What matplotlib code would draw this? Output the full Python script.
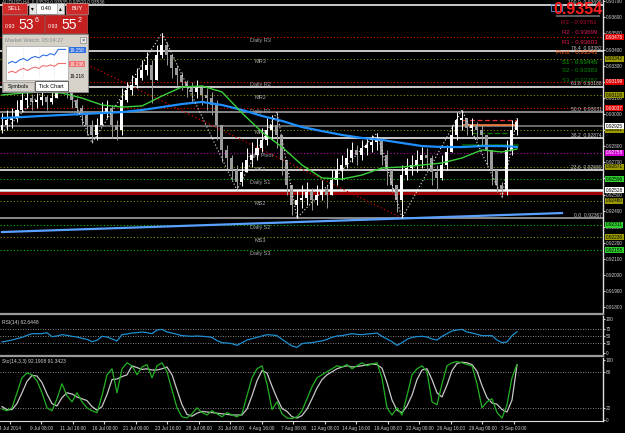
import numpy as np
import matplotlib.pyplot as plt
from matplotlib.patches import Rectangle
from matplotlib.ticker import MultipleLocator, FormatStrFormatter

plt.rcParams['font.family'] = ['Liberation Sans', 'DejaVu Sans']

# ---- AUDUSD H4 bars (open = previous close) ----
open_first = 0.92901
close = [0.92932, 0.92963, 0.92975, 0.93025, 0.93087, 0.93099, 0.93075, 0.93087, 0.93106, 0.93075,
         0.93099, 0.93161, 0.93211, 0.93149, 0.93087, 0.93037, 0.92994, 0.92932, 0.92870, 0.92932,
         0.93012, 0.93037, 0.92932, 0.92901, 0.93087, 0.93149, 0.93180, 0.93224, 0.93273, 0.93304,
         0.93211, 0.93366, 0.93429, 0.93366, 0.93286, 0.93242, 0.93199, 0.93161, 0.93137, 0.93161,
         0.93118, 0.93099, 0.93056, 0.92932, 0.92777, 0.92727, 0.92652, 0.92578, 0.92640, 0.92714,
         0.92745, 0.92789, 0.92839, 0.92901, 0.92932, 0.92870, 0.92714, 0.92559, 0.92435, 0.92466,
         0.92478, 0.92516, 0.92466, 0.92497, 0.92528, 0.92497, 0.92590, 0.92652, 0.92683, 0.92727,
         0.92777, 0.92745, 0.92789, 0.92808, 0.92826, 0.92839, 0.92745, 0.92652, 0.92559, 0.92466,
         0.92621, 0.92665, 0.92683, 0.92714, 0.92745, 0.92727, 0.92640, 0.92603, 0.92683, 0.92764,
         0.92870, 0.92963, 0.92975, 0.92913, 0.92932, 0.92901, 0.92870, 0.92777, 0.92652, 0.92559,
         0.92528, 0.92777, 0.92901, 0.92950]
high = [0.93006, 0.93025, 0.93037, 0.93087, 0.93137, 0.93149, 0.93124, 0.93130, 0.93149, 0.93118,
        0.93161, 0.93224, 0.93261, 0.93211, 0.93161, 0.93099, 0.93056, 0.93012, 0.92963, 0.92975,
        0.93075, 0.93087, 0.93056, 0.92963, 0.93161, 0.93199, 0.93242, 0.93286, 0.93335, 0.93385,
        0.93335, 0.93429, 0.93503, 0.93447, 0.93348, 0.93304, 0.93261, 0.93211, 0.93199, 0.93211,
        0.93180, 0.93161, 0.93137, 0.93087, 0.92901, 0.92808, 0.92745, 0.92683, 0.92702, 0.92789,
        0.92826, 0.92851, 0.92913, 0.92975, 0.92994, 0.93012, 0.92870, 0.92714, 0.92559, 0.92528,
        0.92559, 0.92578, 0.92540, 0.92559, 0.92590, 0.92559, 0.92652, 0.92727, 0.92745, 0.92789,
        0.92826, 0.92808, 0.92839, 0.92851, 0.92870, 0.92882, 0.92851, 0.92777, 0.92652, 0.92559,
        0.92683, 0.92727, 0.92745, 0.92777, 0.92795, 0.92789, 0.92745, 0.92683, 0.92745, 0.92808,
        0.92932, 0.93012, 0.93025, 0.92975, 0.92975, 0.92950, 0.92932, 0.92870, 0.92777, 0.92652,
        0.92578, 0.92839, 0.92963, 0.92975]
low = [0.92882, 0.92901, 0.92913, 0.92950, 0.93012, 0.93037, 0.93025, 0.93037, 0.93056, 0.93025,
       0.93062, 0.93112, 0.93149, 0.93099, 0.93037, 0.92994, 0.92932, 0.92870, 0.92820, 0.92839,
       0.92950, 0.92975, 0.92851, 0.92839, 0.92870, 0.93075, 0.93118, 0.93161, 0.93211, 0.93242,
       0.93068, 0.93211, 0.93348, 0.93304, 0.93224, 0.93180, 0.93149, 0.93106, 0.93075, 0.93099,
       0.93056, 0.93025, 0.92994, 0.92839, 0.92702, 0.92652, 0.92590, 0.92528, 0.92553, 0.92640,
       0.92671, 0.92714, 0.92764, 0.92808, 0.92839, 0.92789, 0.92621, 0.92497, 0.92373, 0.92354,
       0.92416, 0.92435, 0.92404, 0.92435, 0.92466, 0.92416, 0.92497, 0.92559, 0.92590, 0.92665,
       0.92702, 0.92683, 0.92714, 0.92745, 0.92764, 0.92777, 0.92683, 0.92559, 0.92516, 0.92391,
       0.92354, 0.92590, 0.92621, 0.92640, 0.92665, 0.92652, 0.92559, 0.92528, 0.92590, 0.92652,
       0.92777, 0.92839, 0.92901, 0.92870, 0.92870, 0.92839, 0.92808, 0.92683, 0.92559, 0.92516,
       0.92485, 0.92497, 0.92745, 0.92870]

# moving averages sampled every 4th bar
ma_idx = list(range(0, 101, 4)) + [103]
ma_slow = [0.92975, 0.92981, 0.92988, 0.92994, 0.93000, 0.93006, 0.93012, 0.93025, 0.93043, 0.93062,
           0.93075, 0.93056, 0.93025, 0.92988, 0.92957, 0.92919, 0.92894, 0.92870, 0.92851, 0.92839,
           0.92820, 0.92801, 0.92795, 0.92795, 0.92801, 0.92801, 0.92795]
ma_fast = [0.93118, 0.93130, 0.93137, 0.93130, 0.93099, 0.93056, 0.93043, 0.93050, 0.93112, 0.93168,
           0.93174, 0.93137, 0.93006, 0.92888, 0.92795, 0.92683, 0.92603, 0.92596, 0.92621, 0.92665,
           0.92671, 0.92683, 0.92696, 0.92727, 0.92777, 0.92764, 0.92783]

# zigzag pivots: bar index and whether it is a high
zz_idx = [0, 12, 18, 32, 47, 55, 59, 75, 80, 92, 100, 103]
zz_high = [False, True, False, True, False, True, False, True, False, True, False, True]

trend_red_idx = [11, 80]
trend_red_px = [0.93398, 0.92354]
trend_blue_idx = [0, 112]
trend_blue_px = [0.92267, 0.92385]

daily_names = ['Daily R3', 'Daily R2', 'Daily R1', 'Daily Pivot', 'Daily S1', 'Daily S2', 'Daily S3']
daily_prices = [0.93478, 0.93199, 0.93037, 0.92758, 0.92596, 0.92311, 0.92155]
mid_names = ['MR3', 'MR2', 'MR1', 'MS1', 'MS2', 'MS3']
mid_prices = [0.93342, 0.93118, 0.92901, 0.92671, 0.92460, 0.92236]
fib_labels = ['100.0  0.93695', '76.4  0.93382', '61.8  0.93188', '50.0  0.93031',
              '38.2  0.92874', '23.6  0.92680', '0.0  0.92367']
fib_prices = [0.93677, 0.93391, 0.93168, 0.93012, 0.92851, 0.92652, 0.92354]
extra_prices = [0.92925, 0.92528, 0.92510]   # current-price line, support band
short_prices = [0.92963, 0.92932, 0.92882, 0.92808]

pivot_box = ['R3 - 0.93761', 'R2 - 0.93699', 'R1 - 0.93603', 'Pivot - 0.93541',
             'S1 - 0.93445', 'S2 - 0.93383', 'S3 - 0.93287']

rsi = [32, 35, 38, 42, 46, 52, 57, 57, 57, 60,
       48, 50, 54, 52, 49, 47, 43, 40, 33, 37,
       49, 47, 41, 35, 54, 56, 59, 60, 62, 60,
       57, 68, 70, 62, 59, 55, 51, 50, 49, 50,
       49, 48, 46, 36, 30, 29, 27, 22, 30, 38,
       42, 46, 50, 54, 53, 51, 40, 30, 20, 16,
       27, 29, 30, 33, 35, 40, 46, 50, 51, 54,
       57, 55, 54, 56, 57, 59, 49, 41, 33, 22,
       30, 40, 46, 48, 49, 47, 41, 38, 49, 57,
       65, 68, 70, 62, 59, 55, 51, 51, 51, 38,
       30, 32, 51, 62.64]
sto_k = [18, 15, 20, 45, 70, 78, 75, 65, 45, 20,
         15, 35, 60, 40, 30, 45, 30, 20, 15, 12,
         40, 75, 85, 45, 85, 95, 90, 75, 88, 92,
         70, 90, 95, 80, 50, 20, 5, 3, 10, 20,
         12, 8, 15, 10, 5, 12, 8, 5, 10, 40,
         70, 85, 90, 60, 17, 30, 10, 3, 2, 5,
         15, 35, 55, 70, 75, 80, 85, 90, 88, 92,
         85, 90, 95, 90, 93, 95, 70, 20, 8, 20,
         8, 40, 75, 85, 90, 80, 30, 25, 60, 90,
         95, 97, 95, 92, 90, 60, 20, 30, 35, 12,
         3, 25, 70, 92.19]
sto_d = [22, 17, 17, 27, 45, 64, 74, 73, 62, 43,
         27, 23, 37, 45, 43, 38, 35, 32, 22, 16,
         22, 42, 67, 68, 72, 75, 90, 87, 84, 85,
         83, 83, 85, 88, 75, 50, 25, 9, 6, 11,
         14, 13, 12, 11, 10, 9, 8, 8, 8, 18,
         40, 65, 82, 78, 56, 36, 19, 14, 5, 3,
         7, 18, 35, 53, 67, 75, 80, 85, 88, 90,
         88, 89, 90, 92, 93, 92, 86, 62, 33, 16,
         12, 23, 41, 67, 83, 85, 67, 45, 38, 58,
         82, 94, 96, 95, 92, 81, 57, 37, 28, 26,
         17, 13, 33, 91.34]

date_labels = ['4 Jul 2014', '9 Jul 08:00', '11 Jul 16:00', '16 Jul 00:00', '21 Jul 00:00',
               '23 Jul 16:00', '28 Jul 08:00', '31 Jul 08:00', '4 Aug 16:00', '7 Aug 08:00',
               '12 Aug 08:00', '14 Aug 16:00', '19 Aug 08:00', '22 Aug 00:00', '26 Aug 16:00',
               '29 Aug 08:00', '3 Sep 00:00']

tick_blue = [19.238, 19.241, 19.239, 19.243, 19.245, 19.242, 19.246, 19.248,
             19.246, 19.250, 19.249, 19.252, 19.250, 19.258, 19.258, 19.258]
tick_red = [19.225, 19.227, 19.225, 19.229, 19.231, 19.228, 19.231, 19.233,
            19.231, 19.235, 19.234, 19.236, 19.234, 19.238, 19.238, 19.238]

# ---------------------------------------------------------------------------
W, H = 625, 433
FG = '#d0d0d0'
DOT = (0, (1, 2))
SMALL = 3.4


def frame(x0, y0, x1, y1):
    return [x0 / W, 1 - y1 / H, (x1 - x0) / W, (y1 - y0) / H]


fig = plt.figure(figsize=(W / 100, H / 100), dpi=100, facecolor='black')
ax = fig.add_axes(frame(0, 0, 603, 314))
ax_rsi = fig.add_axes(frame(0, 316, 603, 356))
ax_sto = fig.add_axes(frame(0, 358, 603, 421))

for a in (ax, ax_rsi, ax_sto):
    a.set_facecolor('black')
    a.set_xlim(-0.4, 120.2)
    for s in a.spines.values():
        s.set_visible(False)
    a.spines['right'].set_visible(True)
    a.spines['right'].set_color('#e0e0e0')
    a.spines['right'].set_linewidth(1)
    a.yaxis.tick_right()
    a.tick_params(axis='y', colors=FG, labelsize=SMALL, length=1.5, pad=0.6)
    a.tick_params(axis='x', bottom=False, labelbottom=False)
for a in (ax, ax_rsi):
    a.spines['bottom'].set_visible(True)
    a.spines['bottom'].set_color('#9a9a9a')
    a.spines['bottom'].set_linewidth(1.6)
ax_sto.spines['bottom'].set_visible(True)
ax_sto.spines['bottom'].set_color('#e0e0e0')

# ---- main price panel ----
ax.set_ylim(0.91758, 0.93708)
ax.yaxis.set_major_locator(MultipleLocator(0.001))
ax.yaxis.set_major_formatter(FormatStrFormatter('%.5f'))

# horizontal levels
for p in daily_prices[:3]:
    ax.axhline(p, color='#e00000', ls=DOT, lw=0.8)
ax.axhline(daily_prices[3], color='#c000c0', ls=DOT, lw=0.8)
for p in daily_prices[4:]:
    ax.axhline(p, color='#00c000', ls=DOT, lw=0.8)
for p in mid_prices:
    ax.axhline(p, color='#8c8c00', ls=DOT, lw=0.8)
fib_colors = ['white', 'white', 'white', '#a8a8a8', 'white', 'white', '#b0b0b0']
for p, c in zip(fib_prices, fib_colors):
    ax.axhline(p, color=c, lw=1.1)
ax.axhline(extra_prices[0], color='#6a6a6a', lw=1.4)
ax.axhline(extra_prices[1], color='white', lw=1.8)
ax.axhline(extra_prices[2], color='#a00000', lw=2.2)

for name, p in zip(daily_names + mid_names, daily_prices + mid_prices):
    ax.text(51.6, p - 0.00003, name, color='#a8a8a8', fontsize=4, ha='center', va='top')
for lab, p in zip(fib_labels, fib_prices):
    ax.text(120.0, p + 0.00003, lab, color='#c8c8c8', fontsize=3.6, ha='right', va='bottom')

# trend lines
ax.plot(trend_red_idx, trend_red_px, color='#d00000', ls=DOT, lw=0.9)
ax.plot(trend_blue_idx, trend_blue_px, color='#5aa0ff', lw=1.6)

# short levels on the right
ax.hlines(short_prices[0], 92, 103, color='#e03030', ls=(0, (4, 2)), lw=0.9)
ax.hlines(short_prices[1], 92, 103, color='#ff8040', lw=1.2)
ax.hlines(short_prices[2], 94, 102, color='#008000', ls=(0, (4, 2)), lw=0.9)
ax.hlines(short_prices[3], 92, 103.4, color='#006000', lw=1.2)

# candles
idx = np.arange(len(close))
c = np.array(close)
o = np.r_[open_first, c[:-1]]
top = np.maximum(o, c)
bot = np.minimum(o, c)
hi = np.maximum(np.array(high), top)
lo = np.minimum(np.array(low), bot)
up = c >= o
cols = np.where(up, '#ffffff', '#9c9c9c')
ax.vlines(idx, lo, hi, colors=cols, lw=0.7, zorder=3)
ax.bar(idx, np.maximum(top - bot, 0.00003), bottom=bot, width=0.6, color=cols,
       edgecolor='none', zorder=3)

ax.plot(ma_idx, ma_slow, color='#1e8fff', lw=1.6, zorder=4)
ax.plot(ma_idx, ma_fast, color='#3ad13a', lw=1.0, zorder=4)

zz_px = [high[i] if h else low[i] for i, h in zip(zz_idx, zz_high)]
ax.plot(zz_idx, zz_px, color='#e8e8e8', ls=DOT, lw=0.8, zorder=5)

# coloured price boxes on the right scale
ytr = ax.get_yaxis_transform()
boxes = ([(p, '#e00000', 'white') for p in daily_prices[:3]] +
         [(daily_prices[3], '#d000d0', 'white')] +
         [(p, '#2ed02e', 'black') for p in daily_prices[4:]] +
         [(p, '#9a9a00', 'black') for p in mid_prices] +
         [(extra_prices[0], 'white', 'black'), (extra_prices[1], 'white', 'black')])
for p, fc, tc in boxes:
    ax.text(1.005, p, '%.5f' % p, transform=ytr, fontsize=SMALL, color=tc, ha='left',
            va='center', clip_on=False, zorder=6,
            bbox=dict(boxstyle='square,pad=0.12', fc=fc, ec='none'))

# ---- RSI ----
ax_rsi.set_ylim(-10, 110)
ax_rsi.set_yticks([0, 30, 50, 70, 100])
for lv in (30, 50, 70):
    ax_rsi.axhline(lv, color='#b0b0b0', ls=DOT, lw=0.6)
ax_rsi.plot(idx, rsi, color='#1d8fd0', lw=0.9)
ax_rsi.text(0.004, 0.9, 'RSI(14) 62.6448', transform=ax_rsi.transAxes, color=FG,
            fontsize=3.6, va='top')

# ---- Stochastic ----
ax_sto.set_ylim(-2, 103)
ax_sto.set_yticks([0, 20, 80, 100])
for lv in (20, 80):
    ax_sto.axhline(lv, color='#b0b0b0', ls=DOT, lw=0.6)
ax_sto.plot(idx, sto_d, color='#c8c8c8', lw=0.9)
ax_sto.plot(idx, sto_k, color='#22b022', lw=0.9)
ax_sto.text(0.004, 0.98, 'Sto(14,3,3) 92.1908 91.3423', transform=ax_sto.transAxes,
            color=FG, fontsize=3.6, va='top')
tick_pos = 1.6 + 6.3 * np.arange(len(date_labels))
ax_sto.set_xticks(tick_pos)
ax_sto.set_xticklabels(date_labels)
ax_sto.tick_params(axis='x', bottom=True, labelbottom=True, colors=FG, labelsize=SMALL,
                   length=2, pad=1.5)

# ---- terminal widgets drawn on top ----
ui = fig.add_axes([0, 0, 1, 1], zorder=10)
ui.set_xlim(0, W)
ui.set_ylim(H, 0)
ui.axis('off')
ui.patch.set_alpha(0)

ui.text(2, 1.5, 'AUDUSD,H4  0.93529 0.93535 0.93520 0.93536', color='#c0c0c0',
        fontsize=3.4, va='center')
red = '#cf2a2a'
ui.add_patch(Rectangle((2, 3), 25, 11, fc=red, ec='#f0a0a0', lw=0.4))
ui.text(14.5, 8.5, 'SELL', color='white', fontsize=4, ha='center', va='center')
ui.add_patch(Rectangle((29, 3), 35, 11, fc='white', ec='#909090', lw=0.4))
ui.add_patch(Rectangle((29, 3), 7, 11, fc='#e4e4e4', ec='#909090', lw=0.4))
ui.add_patch(Rectangle((57, 3), 7, 11, fc='#e4e4e4', ec='#909090', lw=0.4))
ui.text(32.5, 8.5, '▾', color='black', fontsize=4, ha='center', va='center')
ui.text(60.5, 8.5, '▴', color='black', fontsize=4, ha='center', va='center')
ui.text(46.5, 8.5, '0.40', color='black', fontsize=4, ha='center', va='center')
ui.add_patch(Rectangle((66, 3), 22, 11, fc=red, ec='#f0a0a0', lw=0.4))
ui.text(77, 8.5, 'BUY', color='white', fontsize=4, ha='center', va='center')
for x0, big, sup in ((2, '53', '6'), (45, '55', '2')):
    ui.add_patch(Rectangle((x0, 15), 42, 18, fc='#c42020', ec='#e06060', lw=0.4))
    ui.text(x0 + 3, 27, '0.93', color='white', fontsize=3.8, va='center')
    ui.text(x0 + 16, 25, big, color='white', fontsize=10, va='center')
    ui.text(x0 + 33, 20, sup, color='white', fontsize=5, va='center')

ui.add_patch(Rectangle((2, 34), 86, 58, fc='#d6d2ca', ec='#8a8a8a', lw=0.6))
ui.text(5, 40, 'Market Watch: 05:04:27', color='#8a8a8a', fontsize=4, va='center')
ui.add_patch(Rectangle((80, 37), 6, 6, fc='#ececec', ec='#707070', lw=0.4))
ui.text(83, 40, '×', color='black', fontsize=4, ha='center', va='center')
ui.add_patch(Rectangle((6, 46), 62, 34, fc='white', ec='#909090', lw=0.4))
ui.text(70, 50, '19.258', color='white', fontsize=3.4, va='center',
        bbox=dict(boxstyle='square,pad=0.15', fc='#2f6fe0', ec='none'))
ui.text(70, 64, '19.238', color='white', fontsize=3.4, va='center',
        bbox=dict(boxstyle='square,pad=0.15', fc='#f07070', ec='none'))
ui.text(70, 77, '19.218', color='black', fontsize=3.4, va='center')
ui.add_patch(Rectangle((3, 82), 31, 9, fc='#d6d2ca', ec='#8a8a8a', lw=0.4))
ui.text(18.5, 86.5, 'Symbols', color='black', fontsize=4, ha='center', va='center')
ui.add_patch(Rectangle((35, 81), 33, 10, fc='white', ec='black', lw=0.4))
ui.text(51.5, 86, 'Tick Chart', color='black', fontsize=4, ha='center', va='center')

tk = fig.add_axes(frame(8, 48, 66, 79), zorder=11)
tk.set_facecolor('none')
tk.axis('off')
tk.plot(tick_blue, color='#2f6fe0', lw=0.8)
tk.plot(tick_red, color='#f07070', lw=0.8)
tk.set_ylim(19.216, 19.260)
tk.set_xlim(0, len(tick_blue) - 1)
for g in (4, 8, 12):
    tk.axvline(g, color='#c0c0c0', ls=DOT, lw=0.4)

# daily pivot box, top right
ui.add_patch(Rectangle((551, 4), 11, 7, fc='none', ec='#4a90d9', lw=0.6))
ui.add_patch(Rectangle((556, 15), 44, 2, fc='#5a5a5a', ec='none'))
ui.text(603, 9.5, '0.9354', color='#ff2020', fontsize=11.5, fontweight='bold',
        ha='right', va='center')
piv_colors = ['#b01030', '#d81b60', '#ea2050', '#ff5a00', '#00b000', '#009000', '#007a00']
piv_rows = [23, 32, 43, 52, 62, 71, 81]
for t, col, yy in zip(pivot_box, piv_colors, piv_rows):
    ui.text(597, yy, t, color=col, fontsize=4.4, ha='right', va='center')

fig.savefig('out.png', dpi=100, facecolor='black')
